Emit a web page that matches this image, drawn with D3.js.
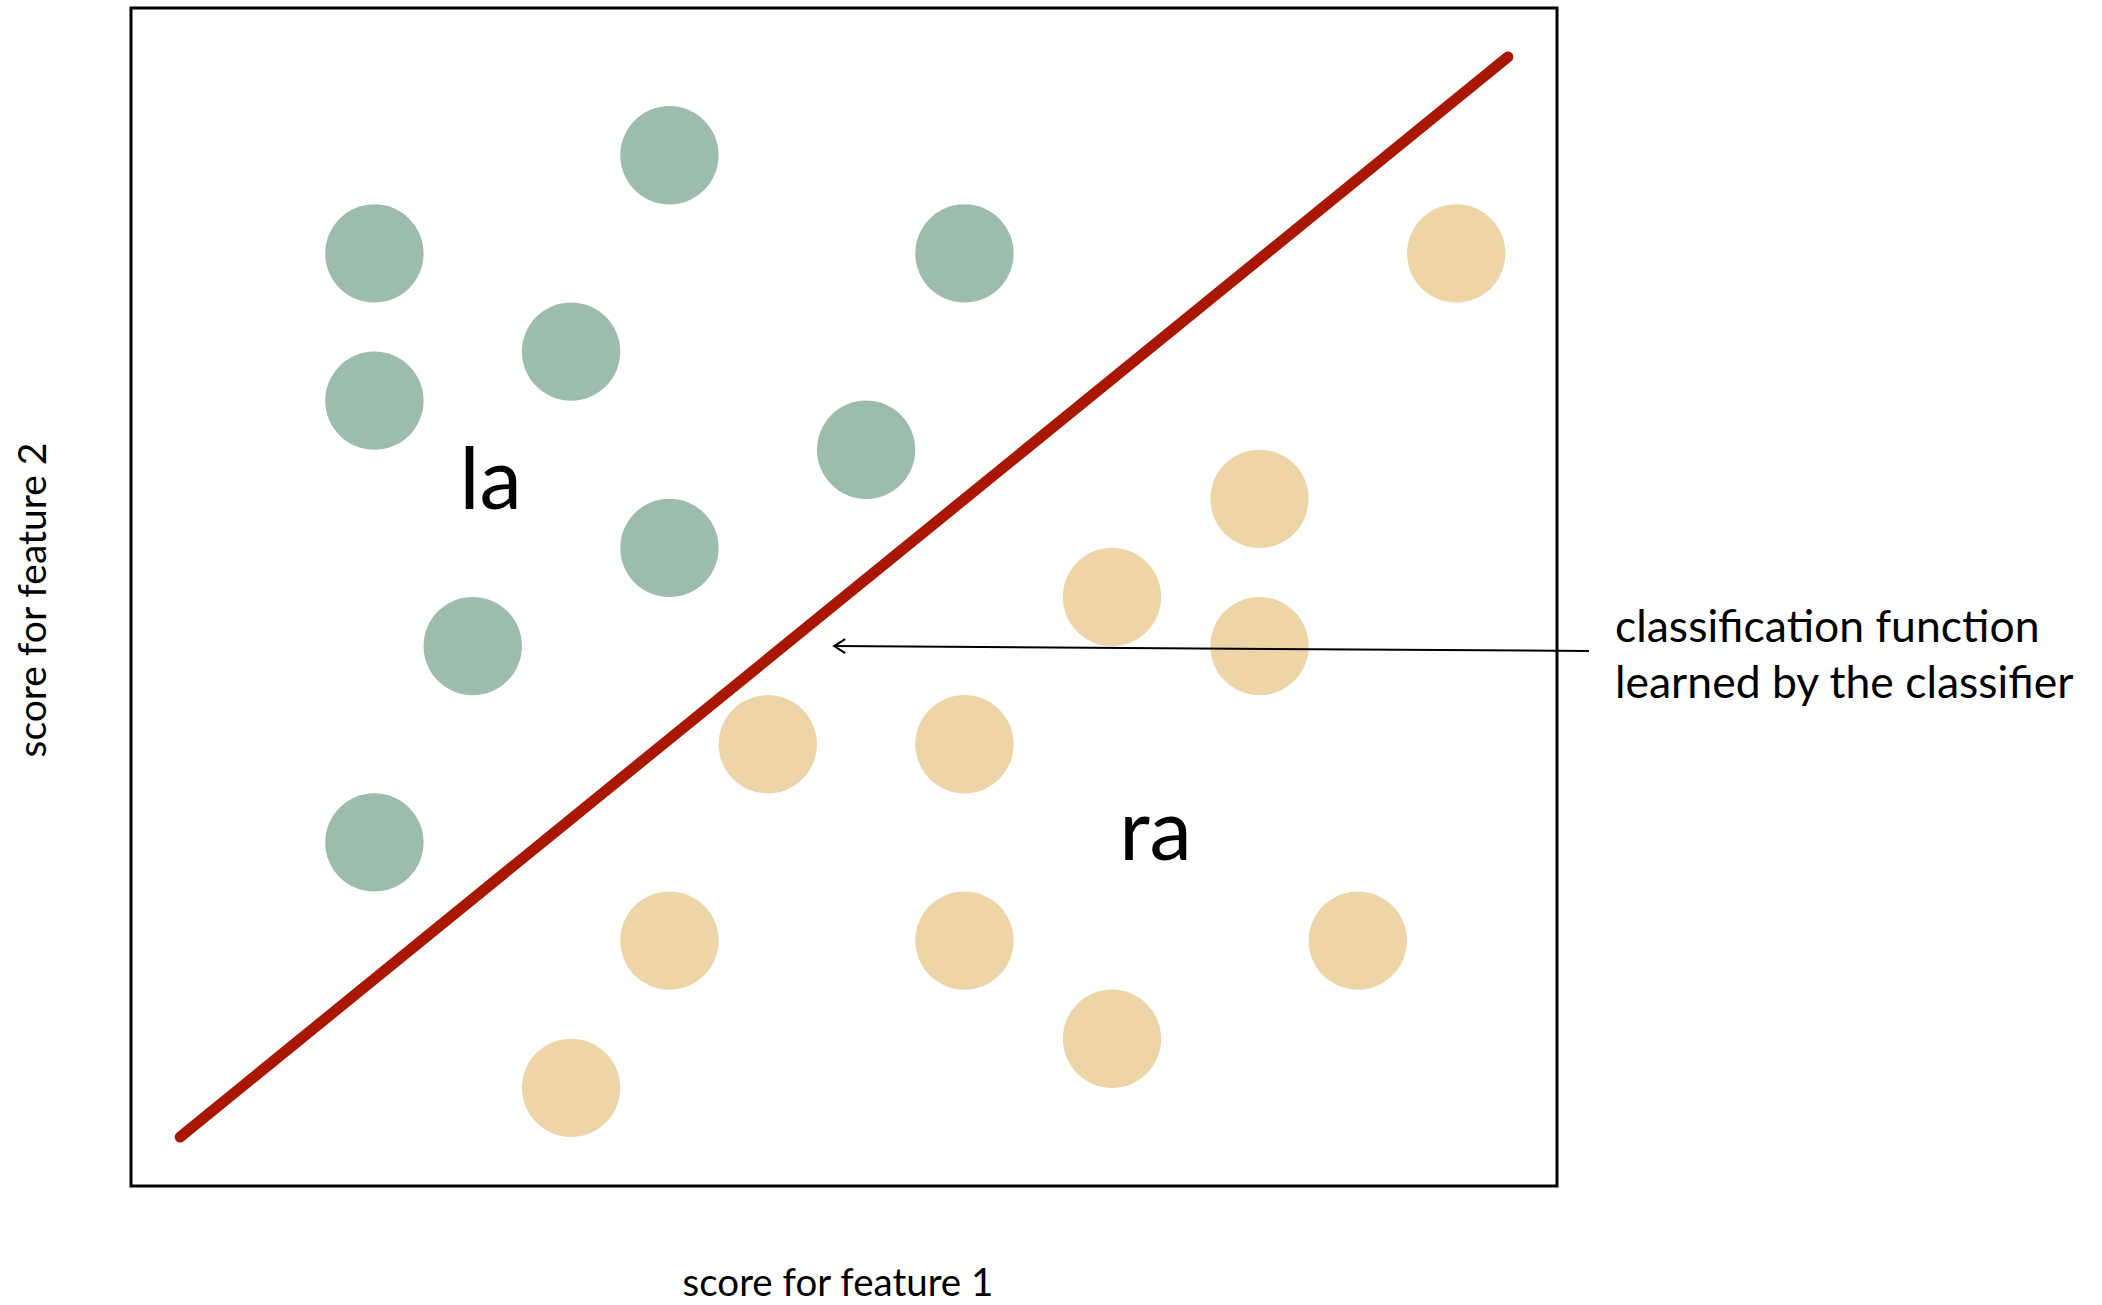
<!DOCTYPE html>
<html>
<head>
<meta charset="utf-8">
<script src="https://cdn.jsdelivr.net/npm/d3@7"></script>
<style>
  body { margin: 0; background: #fff; }
  text { font-family: Lato, "Open Sans", sans-serif; fill: #000; }
</style>
</head>
<body>
<svg id="chart"></svg>
<script>
// points, in feature score units (box runs 0..29 by 0..24)
const classA = [
  { f1: 10.95, f2: 21 }, { f1: 4.95, f2: 19 }, { f1: 16.95, f2: 19 },
  { f1: 8.95, f2: 17 }, { f1: 4.95, f2: 16 }, { f1: 14.95, f2: 15 },
  { f1: 10.95, f2: 13 }, { f1: 6.95, f2: 11 }, { f1: 4.95, f2: 7 }
];
const classB = [
  { f1: 26.95, f2: 19 }, { f1: 22.95, f2: 14 }, { f1: 19.95, f2: 12 },
  { f1: 22.95, f2: 11 }, { f1: 12.95, f2: 9 }, { f1: 16.95, f2: 9 },
  { f1: 10.95, f2: 5 }, { f1: 16.95, f2: 5 }, { f1: 24.95, f2: 5 },
  { f1: 19.95, f2: 3 }, { f1: 8.95, f2: 2 }
];
const boundary = [{ f1: 1, f2: 1 }, { f1: 28, f2: 23 }];
const arrowPts = [{ f1: 29.65, f2: 10.9 }, { f1: 14.3, f2: 11.0 }];
const regionLabels = [
  { text: "la", f1: 6.68, f2: 13.8 },
  { text: "ra", f1: 20.1, f2: 6.65 }
];
const noteLines = ["classification function", "learned by the classifier"];
const xLabel = "score for feature 1";
const yLabel = "score for feature 2";

const width = 2102, height = 1305;
const box = { left: 131, top: 8, right: 1557, bottom: 1186 };

const svg = d3.select('#chart').attr('width', width).attr('height', height);

const xScale = d3.scaleLinear().domain([0, 29]).range([box.left, box.right]);
const yScale = d3.scaleLinear().domain([0, 24]).range([box.bottom, box.top]);
const r = xScale(1) - xScale(0);

svg.append("defs").append("marker")
  .attr("id", "head")
  .attr("markerUnits", "userSpaceOnUse")
  .attr("viewBox", "-13 -9 16 18")
  .attr("refX", 0).attr("refY", 0)
  .attr("markerWidth", 16).attr("markerHeight", 18)
  .attr("orient", "auto")
  .append("path")
  .attr("d", "M-11,-7L0,0L-11,7")
  .attr("fill", "none").attr("stroke", "#000").attr("stroke-width", 2);

// frame
svg.append("rect")
  .attr("x", box.left).attr("y", box.top)
  .attr("width", box.right - box.left).attr("height", box.bottom - box.top)
  .attr("fill", "none").attr("stroke", "#000").attr("stroke-width", 3);

svg.append("g").selectAll("circle").data(classA).join("circle")
  .attr("cx", d => xScale(d.f1)).attr("cy", d => yScale(d.f2))
  .attr("r", r).attr("fill", "#9dbcad");

svg.append("g").selectAll("circle").data(classB).join("circle")
  .attr("cx", d => xScale(d.f1)).attr("cy", d => yScale(d.f2))
  .attr("r", r).attr("fill", "#edd5a7");

const line = d3.line().x(d => xScale(d.f1)).y(d => yScale(d.f2));

svg.append("path").datum(boundary)
  .attr("d", line)
  .attr("fill", "none").attr("stroke", "#aa1700")
  .attr("stroke-width", 11).attr("stroke-linecap", "round");

svg.append("path").datum(arrowPts)
  .attr("d", line)
  .attr("fill", "none").attr("stroke", "#000").attr("stroke-width", 2)
  .attr("marker-end", "url(#head)");

svg.append("g").selectAll("text").data(regionLabels).join("text")
  .attr("x", d => xScale(d.f1)).attr("y", d => yScale(d.f2))
  .attr("font-size", 85)
  .text(d => d.text);

svg.append("g").selectAll("text").data(noteLines).join("text")
  .attr("x", 1615).attr("y", (d, i) => 642 + i * 56)
  .attr("font-size", 44.5)
  .text(d => d);

svg.append("text")
  .attr("x", 838).attr("y", 1296)
  .attr("text-anchor", "middle").attr("font-size", 38.5)
  .text(xLabel);

svg.append("text")
  .attr("transform", "translate(46," + 600 + ") rotate(-90)")
  .attr("text-anchor", "middle").attr("font-size", 39)
  .text(yLabel);
</script>
</body>
</html>
